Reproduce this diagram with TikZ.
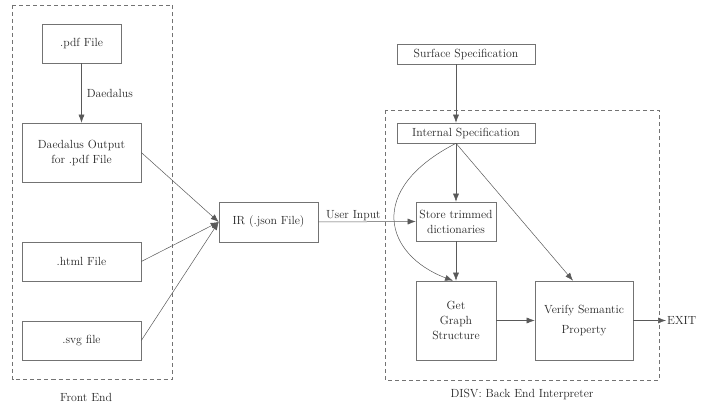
\documentclass[tikz,border=0pt]{standalone}
\usetikzlibrary{arrows.meta,calc}
\begin{document}
\begin{tikzpicture}[x=1pt,y=-1pt,
  box/.style={draw=black!55,line width=0.6pt,inner sep=1pt,align=center,text=black!85,font=\fontsize{11.8}{15}\selectfont},
  lbl/.style={inner sep=1pt,text=black!85,font=\fontsize{11.8}{15}\selectfont},
  arr/.style={draw=black!65,line width=0.5pt,-{Latex[length=8pt,width=6pt]}},
  grp/.style={draw=black!55,dashed,dash pattern=on 4pt off 3pt,line width=0.5pt}]
\useasboundingbox (0,0) rectangle (710,406);
% groups
\draw[grp] (12.5,5) rectangle (172,379);
\draw[grp] (385,110) rectangle (659,380);
% front end
\node[box,minimum width=79pt,minimum height=39pt] (pdf) at (81.5,43.5) {.pdf File};
\node[box,minimum width=119pt,minimum height=59pt] (dout) at (81.5,152.5) {Daedalus Output\\for .pdf File};
\node[box,minimum width=119pt,minimum height=39pt] (html) at (81.5,261.5) {.html File};
\node[box,minimum width=119pt,minimum height=39pt] (svg) at (81.5,340.5) {.svg file};
\node[lbl] (fe) at (86,397) {Front End};
% IR
\node[box,minimum width=99pt,minimum height=40pt] (ir) at (268.5,222) {IR (.json File)};
% back end
\node[box,minimum width=138pt,minimum height=20pt] (surf) at (466,54) {Surface Specification};
\node[box,minimum width=138pt,minimum height=20pt] (int) at (466,133) {Internal Specification};
\node[box,minimum width=80pt,minimum height=39pt] (store) at (456,221.5) {Store trimmed\\dictionaries};
\node[box,minimum width=80pt,minimum height=79pt] (get) at (456,320.5) {Get\\Graph\\Structure};
\node[box,minimum width=98pt,minimum height=79pt] (ver) at (584,320.5) {Verify Semantic\\[5pt]Property};
\node[lbl,anchor=west] (exit) at (666,320.5) {EXIT};
\node[lbl] (be) at (522,394) {DISV: Back End Interpreter};
% connectors
\draw[arr] (pdf) -- node[lbl,right=4pt] {Daedalus} (dout);
\draw[arr] (dout.east) -- (ir.west);
\draw[arr] (html.east) -- (ir.west);
\draw[arr] (svg.east) -- (ir.west);
\draw[arr] (ir.east) -- node[lbl,above=0pt,pos=0.36] {User Input} (store.west);
\draw[arr] (surf.south -| store.north) -- (int.north -| store.north);
\draw[arr] (int.south -| store.north) -- (store.north);
\draw[arr] (int.south -| store.north) .. controls (365,190) and (385,255) .. ($(get.north)+(-3,0)$);
\draw[arr] (int.south -| store.north) -- ($(ver.north)+(-11,0)$);
\draw[arr] (store.south) -- (get.north);
\draw[arr] (get.east) -- (ver.west);
\draw[arr] (ver.east) -- (exit.west);
\end{tikzpicture}
\end{document}
